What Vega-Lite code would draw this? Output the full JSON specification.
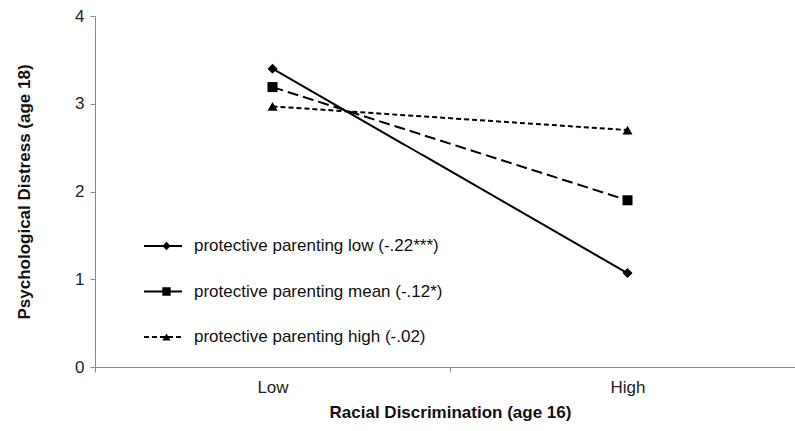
{
  "$schema": "https://vega.github.io/schema/vega-lite/v6.json",
  "autosize": "none",
  "width": 710,
  "height": 351,
  "padding": {"left": 95, "top": 16, "right": -10, "bottom": 64},
  "background": "white",
  "config": {
    "font": "Liberation Sans",
    "view": {"stroke": null},
    "axis": {
      "grid": false,
      "domainColor": "#8a8a8a",
      "tickColor": "#8a8a8a",
      "domainWidth": 1,
      "tickSize": 5,
      "labelFont": "Liberation Sans",
      "labelFontSize": 17,
      "labelColor": "#222",
      "titleFont": "Liberation Sans",
      "titleFontSize": 17,
      "titleFontWeight": "bold",
      "titleColor": "#111"
    }
  },
  "data": {
    "values": [
      {"disc": "Low", "distress": 3.40, "series": "low", "label": "protective parenting low (-.22***)", "marker": "diamond"},
      {"disc": "High", "distress": 1.07, "series": "low", "label": "protective parenting low (-.22***)", "marker": "diamond"},
      {"disc": "Low", "distress": 3.19, "series": "mean", "label": "protective parenting mean (-.12*)", "marker": "square"},
      {"disc": "High", "distress": 1.90, "series": "mean", "label": "protective parenting mean (-.12*)", "marker": "square"},
      {"disc": "Low", "distress": 2.97, "series": "high", "label": "protective parenting high (-.02)", "marker": "triangle-up"},
      {"disc": "High", "distress": 2.70, "series": "high", "label": "protective parenting high (-.02)", "marker": "triangle-up"}
    ]
  },
  "encoding": {
    "x": {
      "field": "disc",
      "type": "nominal",
      "sort": ["Low", "High"],
      "scale": {"paddingInner": 0, "paddingOuter": 0},
      "axis": {"title": "Racial Discrimination (age 16)", "labelAngle": 0, "tickBand": "extent", "labelPadding": 7, "titlePadding": 9}
    },
    "y": {
      "field": "distress",
      "type": "quantitative",
      "scale": {"domain": [0, 4], "nice": false},
      "axis": {"title": "Psychological Distress (age 18)", "values": [0, 1, 2, 3, 4], "labelPadding": 6, "titlePadding": 41}
    }
  },
  "layer": [
    {
      "mark": {"type": "line", "color": "black", "strokeWidth": 2, "opacity": 0},
      "encoding": {
        "strokeDash": {
          "field": "label",
          "type": "nominal",
          "scale": {
            "domain": ["protective parenting low (-.22***)", "protective parenting mean (-.12*)", "protective parenting high (-.02)"],
            "range": [[1, 0], [1, 0], [5, 3]]
          },
          "legend": {
            "title": null,
            "orient": "none",
            "legendX": 48,
            "legendY": 220,
            "symbolType": "stroke",
            "symbolSize": 1444,
            "symbolStrokeWidth": 2,
            "symbolStrokeColor": "black",
            "symbolOpacity": 1,
            "symbolOffset": 0,
            "clipHeight": 20,
            "rowPadding": 25.5,
            "padding": 0,
            "labelOffset": 11,
            "labelFont": "Liberation Sans",
            "labelFontSize": 17,
            "labelColor": "#111",
            "labelLimit": 400
          }
        }
      }
    },
    {
      "mark": {"type": "line", "color": "black", "strokeWidth": 2},
      "encoding": {
        "strokeDash": {
          "field": "series",
          "type": "nominal",
          "scale": {
            "domain": ["low", "mean", "high"],
            "range": [[1, 0], [11, 5], [5, 3]]
          },
          "legend": null
        }
      }
    },
    {
      "mark": {"type": "point", "filled": true, "color": "black", "size": 100, "opacity": 1},
      "encoding": {
        "shape": {
          "field": "marker",
          "type": "nominal",
          "scale": {
            "domain": ["diamond", "square", "triangle-up"],
            "range": ["diamond", "square", "triangle-up"]
          },
          "legend": {
            "title": null,
            "orient": "none",
            "legendX": 63,
            "legendY": 220,
            "symbolSize": 70,
            "symbolFillColor": "black",
            "symbolStrokeColor": "black",
            "symbolOpacity": 1,
            "symbolOffset": 0,
            "clipHeight": 20,
            "rowPadding": 25.5,
            "padding": 0,
            "labelFontSize": 17,
            "labelExpr": "''"
          }
        }
      }
    }
  ],
  "resolve": {"scale": {"strokeDash": "independent"}}
}
